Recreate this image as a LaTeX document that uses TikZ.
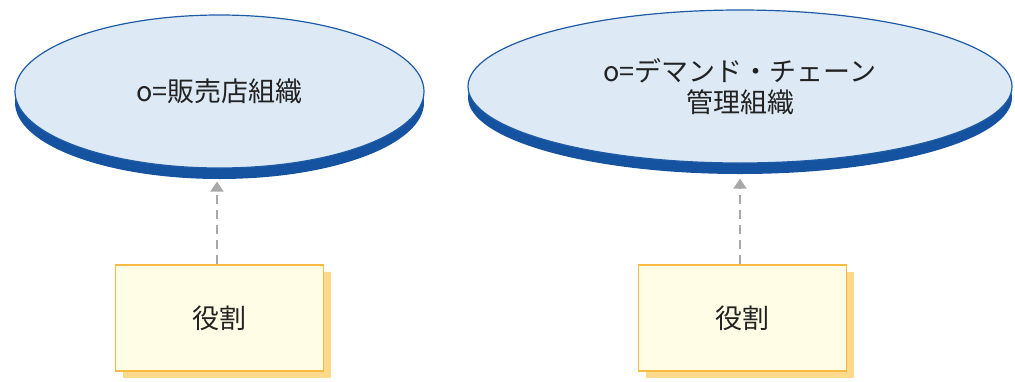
\documentclass[tikz,border=0pt]{standalone}
\usepackage{fontspec}
\newfontfamily\cjk{Noto Sans CJK JP}
\usetikzlibrary{shapes.geometric, arrows.meta, positioning, shadows}
\definecolor{orgfill}{HTML}{DDEAF6}
\definecolor{orgline}{HTML}{1F5AA6}
\definecolor{orgband}{HTML}{1553A1}
\definecolor{rolefill}{HTML}{FFFDE6}
\definecolor{roleline}{HTML}{F6BA45}
\definecolor{roleshade}{HTML}{FDD98B}
\definecolor{deparrow}{HTML}{A8A8A8}
\definecolor{labeltext}{HTML}{222222}
\begin{document}
\begin{tikzpicture}[x=1pt, y=-1pt,
    org/.style={ellipse, draw=orgline, line width=1.2pt, fill=orgfill,
      general shadow={fill=orgband, shadow yshift=-11pt},
      minimum height=153pt, inner sep=0pt, align=center, text=labeltext,
      font=\cjk\fontsize{27}{31}\selectfont},
    rolebox/.style={rectangle, draw=roleline, line width=1.2pt, fill=rolefill,
      general shadow={fill=roleshade, shadow xshift=7pt, shadow yshift=-7pt},
      minimum width=208pt, minimum height=106pt, text=labeltext,
      font=\cjk\fontsize{27}{31}\selectfont},
    dep/.style={draw=deparrow, line width=1.5pt, dash pattern=on 9pt off 6pt,
      -{Triangle[width=13pt, length=10pt, fill=deparrow]}}]
    \useasboundingbox (0,0) rectangle (1015,381);
    % organisations
    \node[org, minimum width=409pt] (dealerorg) at (219.5,91.5) {o=販売店組織};
    \node[org, minimum width=544pt] (demandorg) at (740,86.5)
      {o=デマンド・チェーン\\管理組織};
    % roles
    \node[rolebox] (dealerrole) at (219.5,318) {役割};
    \node[rolebox] (demandrole) at (742.5,318) {役割};
    \draw[dep] ([xshift=-2.5pt]dealerrole.north) -- ([xshift=-2.5pt, yshift=-13pt]dealerorg.south);
    \draw[dep] (demandrole.north -| demandorg.south) -- ([yshift=-15pt]demandorg.south);
  \end{tikzpicture}
\end{document}
